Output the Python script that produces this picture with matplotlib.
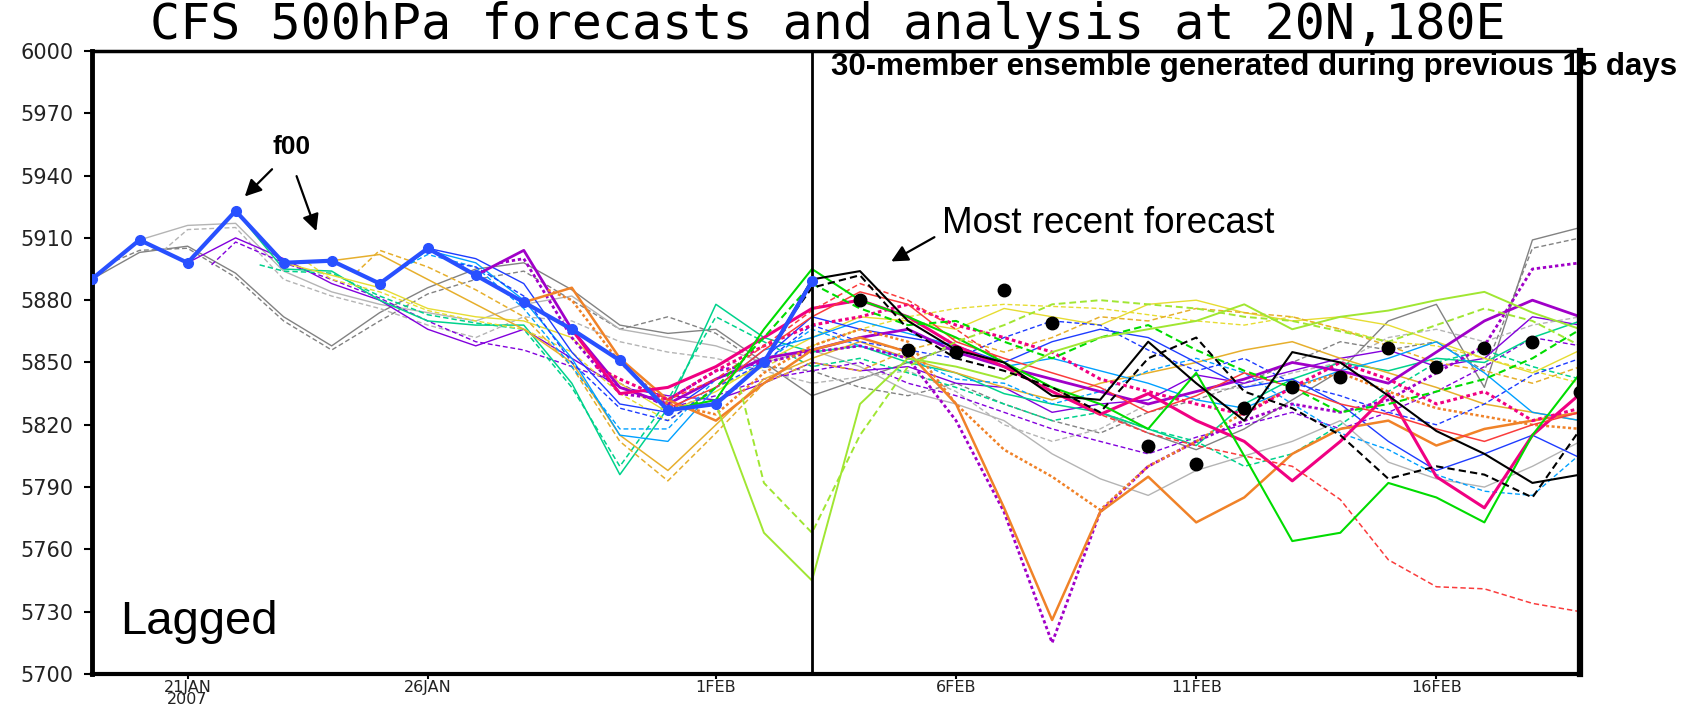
import matplotlib
matplotlib.use('Agg')
import matplotlib.pyplot as plt

# time axis: days since 19JAN2007 00Z (3 Feb = day 15, 19 Feb = day 31)
tick_days = [2, 7, 13, 18, 23, 28]
tick_labels = ['21JAN\n2007', '26JAN', '1FEB', '6FEB', '11FEB', '16FEB']
y_ticks = [5700, 5730, 5760, 5790, 5820, 5850, 5880, 5910, 5940, 5970, 6000]

# f00 (initial analysis of each daily run), days 0..15
f00 = [5890, 5909, 5898, 5923, 5898, 5899, 5888, 5905, 5892, 5879, 5866, 5851, 5827, 5830, 5850, 5889]

# verifying analysis after 3 Feb
anl_days = [16, 17, 18, 19, 20, 22, 23, 24, 25, 26, 27, 28, 29, 30, 31]
anl = [5880, 5856, 5855, 5885, 5869, 5810, 5801, 5828, 5838, 5843, 5857, 5848, 5857, 5860, 5836]

# lagged members, 00Z and 12Z runs of each day; first value at the initial time, then daily
m0119_00 = [5890, 5903, 5906, 5893, 5872, 5858, 5874, 5886, 5895, 5898, 5885, 5868, 5864, 5866, 5850, 5834,
            5842, 5850, 5858, 5848, 5836, 5826, 5816, 5808, 5818, 5832, 5846, 5870, 5878, 5838, 5909, 5915]
m0119_12 = [5899, 5904, 5905, 5891, 5870, 5856, 5870, 5883, 5890, 5894, 5880, 5866, 5872, 5864, 5848, 5846,
            5838, 5834, 5840, 5830, 5822, 5816, 5826, 5832, 5840, 5850, 5860, 5856, 5860, 5846, 5905, 5910]
m0120_00 = [5909, 5916, 5917, 5894, 5884, 5878, 5874, 5870, 5878, 5882, 5866, 5862, 5858, 5850, 5856, 5848,
            5836, 5830, 5822, 5806, 5794, 5786, 5798, 5805, 5812, 5822, 5802, 5794, 5790, 5800, 5812]
m0120_12 = [5904, 5914, 5915, 5890, 5882, 5876, 5868, 5862, 5872, 5870, 5860, 5855, 5852, 5846, 5840, 5843,
            5846, 5836, 5820, 5812, 5818, 5830, 5836, 5838, 5845, 5850, 5862, 5866, 5860, 5868, 5872]
m0121_00 = [5898, 5910, 5900, 5888, 5880, 5866, 5858, 5866, 5852, 5838, 5834, 5832, 5840, 5850, 5846, 5848,
            5840, 5838, 5826, 5830, 5832, 5844, 5840, 5846, 5852, 5856, 5848, 5852, 5872, 5868]
m0121_12 = [5897, 5908, 5898, 5890, 5881, 5870, 5860, 5856, 5848, 5840, 5828, 5834, 5842, 5846, 5850, 5840,
            5834, 5826, 5818, 5812, 5806, 5814, 5820, 5826, 5818, 5826, 5836, 5848, 5862, 5858]
m0122_00 = [5923, 5895, 5894, 5880, 5870, 5868, 5868, 5840, 5796, 5828, 5878, 5862, 5855, 5858, 5850, 5845,
            5835, 5830, 5826, 5818, 5810, 5830, 5842, 5850, 5846, 5852, 5850, 5862, 5870]
m0122_12 = [5897, 5894, 5893, 5882, 5873, 5869, 5866, 5838, 5800, 5832, 5872, 5860, 5848, 5852, 5845, 5838,
            5830, 5822, 5826, 5818, 5812, 5800, 5806, 5820, 5836, 5850, 5856, 5848, 5842]
m0123_00 = [5898, 5892, 5886, 5876, 5872, 5870, 5862, 5840, 5826, 5836, 5850, 5862, 5872, 5870, 5866, 5876,
            5872, 5868, 5878, 5880, 5874, 5870, 5872, 5868, 5860, 5852, 5845, 5856]
m0123_12 = [5898, 5890, 5884, 5875, 5870, 5866, 5855, 5835, 5822, 5838, 5848, 5858, 5866, 5872, 5876, 5878,
            5877, 5876, 5873, 5870, 5868, 5872, 5866, 5860, 5858, 5852, 5846, 5840]
m0124_00 = [5899, 5902, 5890, 5878, 5866, 5850, 5815, 5798, 5820, 5842, 5852, 5860, 5852, 5845, 5838, 5832,
            5840, 5845, 5850, 5856, 5860, 5852, 5845, 5838, 5830, 5826, 5822]
m0124_12 = [5893, 5904, 5896, 5885, 5872, 5848, 5812, 5793, 5816, 5840, 5850, 5846, 5856, 5862, 5855, 5862,
            5872, 5870, 5876, 5874, 5872, 5866, 5858, 5850, 5846, 5840, 5848]
m0125_00 = [5888, 5904, 5898, 5880, 5852, 5815, 5812, 5838, 5856, 5862, 5870, 5864, 5858, 5848, 5852, 5846,
            5840, 5832, 5828, 5838, 5846, 5852, 5860, 5845, 5826, 5822]
m0125_12 = [5896, 5902, 5896, 5876, 5848, 5818, 5818, 5842, 5850, 5866, 5858, 5852, 5842, 5840, 5830, 5836,
            5846, 5852, 5845, 5830, 5816, 5808, 5796, 5788, 5786, 5806]
m0126_00 = [5905, 5900, 5888, 5855, 5830, 5826, 5842, 5852, 5872, 5866, 5862, 5858, 5850, 5860, 5866, 5862,
            5850, 5838, 5842, 5830, 5812, 5798, 5806, 5815, 5804]
m0126_12 = [5898, 5896, 5882, 5850, 5828, 5822, 5838, 5850, 5868, 5860, 5856, 5852, 5862, 5870, 5868, 5856,
            5846, 5852, 5840, 5834, 5826, 5820, 5830, 5844, 5852]
m0127_00 = [5892, 5904, 5866, 5838, 5830, 5842, 5852, 5856, 5862, 5866, 5855, 5848, 5842, 5836, 5830, 5836,
            5842, 5850, 5846, 5840, 5855, 5870, 5880, 5872]
m0127_12 = [5898, 5900, 5862, 5835, 5832, 5846, 5850, 5855, 5858, 5852, 5822, 5778, 5715, 5778, 5800, 5812,
            5822, 5830, 5826, 5832, 5845, 5858, 5895, 5898]
m0128_00 = [5879, 5886, 5852, 5832, 5822, 5840, 5856, 5862, 5855, 5830, 5780, 5726, 5778, 5795, 5773, 5785,
            5806, 5818, 5822, 5810, 5818, 5822, 5826]
m0128_12 = [5885, 5880, 5850, 5830, 5825, 5845, 5858, 5866, 5860, 5830, 5808, 5795, 5779, 5800, 5812, 5826,
            5838, 5845, 5836, 5828, 5824, 5820, 5818]
m0129_00 = [5866, 5835, 5838, 5848, 5862, 5876, 5880, 5872, 5858, 5848, 5836, 5825, 5835, 5822, 5812, 5793,
            5812, 5835, 5795, 5780, 5815, 5835]
m0129_12 = [5848, 5842, 5832, 5846, 5858, 5868, 5872, 5878, 5868, 5862, 5855, 5842, 5836, 5830, 5825, 5838,
            5850, 5842, 5830, 5836, 5822, 5828]
m0130_00 = [5851, 5828, 5838, 5856, 5872, 5884, 5878, 5860, 5852, 5845, 5838, 5826, 5834, 5845, 5838, 5830,
            5825, 5818, 5812, 5820, 5826]
m0130_12 = [5838, 5832, 5842, 5858, 5875, 5888, 5880, 5866, 5850, 5838, 5825, 5816, 5810, 5805, 5800, 5784,
            5755, 5742, 5741, 5734, 5730]
m0131_00 = [5827, 5832, 5866, 5895, 5880, 5872, 5862, 5850, 5838, 5830, 5818, 5845, 5805, 5764, 5768, 5792,
            5785, 5773, 5815, 5845]
m0131_12 = [5829, 5838, 5862, 5888, 5876, 5868, 5870, 5860, 5852, 5862, 5868, 5856, 5846, 5838, 5826, 5830,
            5836, 5842, 5852, 5866]
m0201_00 = [5830, 5768, 5745, 5830, 5852, 5848, 5842, 5855, 5862, 5866, 5870, 5878, 5866, 5872, 5875, 5880,
            5884, 5874, 5866]
m0201_12 = [5838, 5792, 5768, 5815, 5848, 5860, 5868, 5878, 5880, 5878, 5876, 5872, 5870, 5865, 5860, 5868,
            5876, 5870, 5858]
m0202_00 = [5850, 5890, 5894, 5870, 5856, 5850, 5834, 5832, 5860, 5840, 5822, 5855, 5850, 5834, 5817, 5806,
            5792, 5796]
m0202_12 = [5870, 5886, 5892, 5866, 5852, 5846, 5838, 5826, 5852, 5862, 5836, 5828, 5815, 5794, 5800, 5796,
            5785, 5818]

members = [(m0119_00, m0119_12), (m0120_00, m0120_12), (m0121_00, m0121_12), (m0122_00, m0122_12),
           (m0123_00, m0123_12), (m0124_00, m0124_12), (m0125_00, m0125_12), (m0126_00, m0126_12),
           (m0127_00, m0127_12), (m0128_00, m0128_12), (m0129_00, m0129_12), (m0130_00, m0130_12),
           (m0131_00, m0131_12), (m0201_00, m0201_12), (m0202_00, m0202_12)]

day_colors = ['#828282', '#b4b4b4', '#8200dc', '#00d28c', '#e6dc32', '#e6af2d', '#00a0ff', '#1e3cff',
              '#a000c8', '#f08228', '#f00082', '#fa3c3c', '#00dc00', '#a0e632', '#000000']
day_widths = [1.0, 1.0, 1.0, 1.1, 1.0, 1.1, 1.0, 1.0, 2.0, 1.8, 2.2, 1.1, 1.5, 1.4, 1.5]

fig = plt.figure(figsize=(17.04, 7.07), dpi=100)
ax = fig.add_axes([0.0537, 0.0467, 0.8738, 0.8812])

for d, (run00, run12) in enumerate(members):
    t00 = list(range(d, 32))
    t12 = [d + 0.5] + list(range(d + 1, 32))
    assert len(t00) == len(run00) and len(t12) == len(run12), d
    dash = (0, (1.2, 1.0)) if day_widths[d] >= 1.8 else (0, (3.5, 2))
    ax.plot(t00, run00, color=day_colors[d], lw=day_widths[d], zorder=2 + d * 0.01)
    ax.plot(t12, run12, color=day_colors[d], lw=day_widths[d], ls=dash, zorder=2 + d * 0.01)

ax.plot(range(len(f00)), f00, color='#2850ff', lw=3, marker='o', ms=7, zorder=5)
ax.plot(anl_days, anl, ls='none', marker='o', ms=9, color='black', zorder=6)

ax.axvline(15, color='black', lw=2, zorder=4)

ax.set_xlim(0, 31)
ax.set_ylim(5700, 6000)
ax.set_xticks(tick_days)
ax.set_xticklabels(tick_labels, fontsize=11.5, color='#222222', linespacing=0.7)
ax.set_yticks(y_ticks)
ax.set_yticklabels([str(v) for v in y_ticks], fontsize=15, color='#222222')
ax.tick_params(axis='y', direction='out', length=6, width=1.5, pad=7)
ax.tick_params(axis='x', direction='out', length=3.5, width=1.5, pad=1)
for side, w in [('left', 3.5), ('right', 4.5), ('bottom', 3), ('top', 2.5)]:
    ax.spines[side].set_linewidth(w)

fig.text(0.486, 0.965, 'CFS 500hPa forecasts and analysis at 20N,180E', family='DejaVu Sans Mono',
         fontsize=36, ha='center', va='center')

sans = 'Liberation Sans'
ax.text(4.16, 5954, 'f00', family=sans, fontsize=19, fontweight='bold', ha='center', va='center')
arrow = dict(arrowstyle='-|>,head_length=1.0,head_width=0.5', color='black', lw=1.6)
ax.annotate('', xy=(3.15, 5929), xytext=(3.8, 5944), arrowprops=arrow)
ax.annotate('', xy=(4.7, 5912), xytext=(4.25, 5941), arrowprops=arrow)

ax.text(17.7, 5917, 'Most recent forecast', family=sans, fontsize=26.5, ha='left', va='center')
ax.annotate('', xy=(16.6, 5898), xytext=(17.6, 5911), arrowprops=arrow)

fig.text(831 / 1704, 1 - 67 / 707, '30-member ensemble generated during previous 15 days', family=sans,
         fontsize=22.5, fontweight='bold', ha='left', va='center')

ax.text(0.59, 5725, 'Lagged', family=sans, fontsize=34, ha='left', va='center')

fig.savefig('out.png', dpi=100)
